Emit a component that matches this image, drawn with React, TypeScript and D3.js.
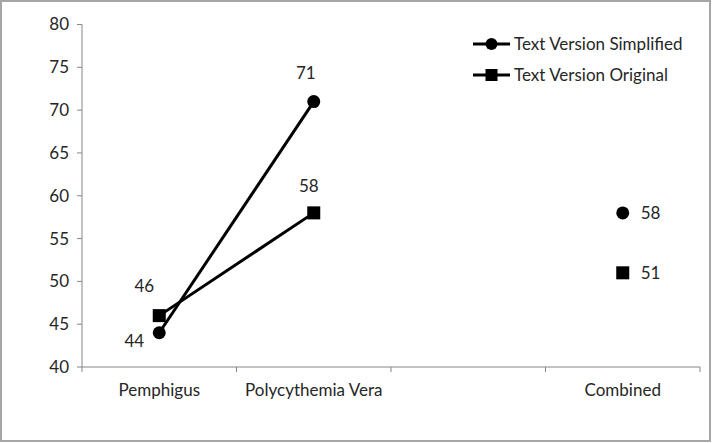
import React from "react";
import * as d3 from "d3";

const categories = ["Pemphigus", "Polycythemia Vera", "", "Combined"];
const simplified: (number | null)[] = [44, 71, null, 58];
const original: (number | null)[] = [46, 58, null, 51];
const yTicks = [40, 45, 50, 55, 60, 65, 70, 75, 80];
const seriesNames = ["Text Version Simplified", "Text Version Original"];

const W = 712;
const H = 443;
const FONT = "Lato, 'Open Sans', sans-serif";
const FS = 17;

export default function App() {
  const x = d3.scaleBand<string>().domain(categories.map((c, i) => String(i))).range([82, 700]);
  const y = d3.scaleLinear().domain([40, 80]).range([367, 24.5]);
  const cx = (i: number) => (x(String(i)) as number) + x.bandwidth() / 2;

  const line = d3
    .line<number | null>()
    .defined((d) => d !== null)
    .x((_, i) => cx(i))
    .y((d) => y(d as number));

  const simpLabelPos: [number, number, string][] = [
    [-25, 8, "middle"],
    [-8, -29, "middle"],
    [0, 0, "middle"],
    [18, 0, "start"],
  ];
  const origLabelPos: [number, number, string][] = [
    [-15, -30, "middle"],
    [-5, -27, "middle"],
    [0, 0, "middle"],
    [18, 0, "start"],
  ];

  const bandEdges = categories.map((_, i) => x(String(i)) as number).concat([700]);

  return (
    <svg width={W} height={H} style={{ position: "absolute", left: 0, top: 0 }}>
      <rect x={0} y={0} width={W} height={H} fill="#fff" />
      <rect x={1} y={1} width={W - 3} height={H - 3} fill="none" stroke="#a6a6a6" strokeWidth={2} />
      <line x1={82} x2={82} y1={y(80)} y2={y(40)} stroke="#868686" strokeWidth={1} />
      {yTicks.map((t) => (
        <g key={t}>
          <line x1={77} x2={82} y1={y(t)} y2={y(t)} stroke="#868686" />
          <text x={69} y={y(t)} dy="0.35em" textAnchor="end" fontFamily={FONT} fontSize={FS} fill="#262626">
            {t}
          </text>
        </g>
      ))}
      <line x1={82} x2={700} y1={y(40)} y2={y(40)} stroke="#868686" />
      {bandEdges.map((e, i) => (
        <line key={i} x1={e} x2={e} y1={y(40)} y2={y(40) + 5} stroke="#868686" />
      ))}
      {categories.map((c, i) => (
        <text key={i} x={cx(i)} y={396} textAnchor="middle" fontFamily={FONT} fontSize={FS} fill="#262626">
          {c}
        </text>
      ))}
      <path d={line(simplified) || ""} fill="none" stroke="#000" strokeWidth={3} />
      <path d={line(original) || ""} fill="none" stroke="#000" strokeWidth={3} />
      {simplified.map((v, i) =>
        v === null ? null : <circle key={i} cx={cx(i)} cy={y(v)} r={6.5} fill="#000" />
      )}
      {original.map((v, i) =>
        v === null ? null : (
          <rect key={i} x={cx(i) - 6.5} y={y(v) - 6.5} width={13} height={13} fill="#000" />
        )
      )}
      {simplified.map((v, i) =>
        v === null ? null : (
          <text
            key={i}
            x={cx(i) + simpLabelPos[i][0]}
            y={y(v) + simpLabelPos[i][1]}
            dy="0.35em"
            textAnchor={simpLabelPos[i][2] as any}
            fontFamily={FONT}
            fontSize={FS}
            fill="#262626"
          >
            {v}
          </text>
        )
      )}
      {original.map((v, i) =>
        v === null ? null : (
          <text
            key={i}
            x={cx(i) + origLabelPos[i][0]}
            y={y(v) + origLabelPos[i][1]}
            dy="0.35em"
            textAnchor={origLabelPos[i][2] as any}
            fontFamily={FONT}
            fontSize={FS}
            fill="#262626"
          >
            {v}
          </text>
        )
      )}
      {seriesNames.map((s, i) => {
        const ly = 44 + i * 31;
        return (
          <g key={s}>
            <line x1={473} x2={510} y1={ly} y2={ly} stroke="#000" strokeWidth={3} />
            {i === 0 ? (
              <circle cx={491.5} cy={ly} r={6} fill="#000" />
            ) : (
              <rect x={485.5} y={ly - 6} width={12} height={12} fill="#000" />
            )}
            <text x={514} y={ly} dy="0.35em" fontFamily={FONT} fontSize={FS} fill="#262626">
              {s}
            </text>
          </g>
        );
      })}
    </svg>
  );
}
